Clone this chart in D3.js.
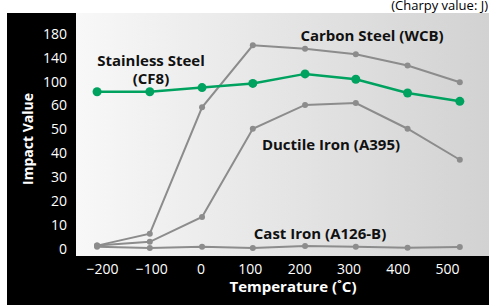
<!DOCTYPE html>
<html>
<head>
<meta charset="utf-8">
<script src="https://cdn.jsdelivr.net/npm/d3@7"></script>
<style>
  body { margin: 0; background: #fff; }
  svg { display: block; font-family: "Open Sans", "Noto Sans", sans-serif; }
</style>
</head>
<body>
<script>
// temperatures where the points sit
const temps = [-210, -103, 3, 106, 212, 315, 420, 526]
const xTicks = [-200, -100, 0, 100, 200, 300, 400, 500]
const yTicks = [0, 10, 20, 30, 40, 50, 60, 100, 140, 180]

const stainless = [82, 82, 89, 96, 112, 103, 80, 66]
const carbon = [1, 6, 59, 160, 154, 145, 126, 98]
const ductile = [1, 2.6, 13, 50, 60, 63, 50, 37]
const castIron = [0.5, 0, 0.5, 0, 0.8, 0.5, 0.1, 0.4]

const W = 489, H = 305
const panel = {left: 7, top: 13}
const plot = {left: 76, top: 13, right: 489, bottom: 256}

const svg = d3.select("body").append("svg").attr("width", W).attr("height", H)

const defs = svg.append("defs")
const grad = defs.append("linearGradient").attr("id", "bg").attr("x1", "0").attr("x2", "1").attr("y1", "0").attr("y2", "0")
grad.append("stop").attr("offset", "0%").attr("stop-color", "#f8f8f8")
grad.append("stop").attr("offset", "100%").attr("stop-color", "#d2d2d2")

svg.append("rect")
   .attr("x", panel.left).attr("y", panel.top)
   .attr("width", W - panel.left).attr("height", H - panel.top)
   .attr("fill", "#000")
svg.append("rect")
   .attr("x", plot.left).attr("y", plot.top)
   .attr("width", plot.right - plot.left).attr("height", plot.bottom - plot.top)
   .attr("fill", "url(#bg)")

let x = d3.scaleLinear().domain([-200, 500]).range([102, 447])
// uneven y axis: every tick gets the same spacing
let y = d3.scaleLinear()
          .domain(yTicks)
          .range(yTicks.map((d, i) => 248 - i * 23.85))

let xAxis = d3.axisBottom(x).tickValues(xTicks).tickSize(0).tickPadding(0)
              .tickFormat(d => d < 0 ? "\u2212" + Math.abs(d) : d)
let yAxis = d3.axisLeft(y).tickValues(yTicks).tickSize(0).tickPadding(0)

const gx = svg.append("g").attr("transform", "translate(0,274)").call(xAxis)
gx.select(".domain").remove()
gx.selectAll("text").attr("fill", "#fff").attr("font-size", 14).attr("dy", 0)
  .attr("font-family", "Open Sans, sans-serif")

const gy = svg.append("g").attr("transform", "translate(67,0)").call(yAxis)
gy.select(".domain").remove()
gy.selectAll("text").attr("fill", "#fff").attr("font-size", 14).attr("dy", "0.36em")
  .attr("font-family", "Open Sans, sans-serif")

svg.append("text")
   .attr("transform", "translate(33,139) rotate(-90)")
   .attr("text-anchor", "middle")
   .attr("fill", "#fff").attr("font-size", 14).attr("font-weight", "bold")
   .text("Impact Value")

svg.append("text")
   .attr("x", 293).attr("y", 292)
   .attr("text-anchor", "middle")
   .attr("fill", "#fff").attr("font-size", 15).attr("font-weight", "bold")
   .text("Temperature (\u02DAC)")

svg.append("text")
   .attr("x", 488).attr("y", 10)
   .attr("text-anchor", "end")
   .attr("fill", "#000").attr("font-size", 13)
   .text("(Charpy value: J)")

const line = d3.line().x((d, i) => x(temps[i])).y(d => y(d))

function drawSeries(vals, color, width, r) {
  const g = svg.append("g")
  g.append("path")
   .attr("d", line(vals))
   .attr("fill", "none")
   .attr("stroke", color)
   .attr("stroke-width", width)
  g.selectAll("circle")
   .data(vals)
   .enter().append("circle")
           .attr("cx", (d, i) => x(temps[i]))
           .attr("cy", d => y(d))
           .attr("r", r)
           .attr("fill", color)
}

drawSeries(castIron, "#8c8c8c", 2, 3)
drawSeries(ductile, "#8c8c8c", 2, 3)
drawSeries(carbon, "#8c8c8c", 2, 3)
drawSeries(stainless, "#00a260", 2.5, 4.5)

const labels = [
  {t: ["Carbon Steel (WCB)"], x: 372, y: 41},
  {t: ["Stainless Steel", "(CF8)"], x: 151, y: 66},
  {t: ["Ductile Iron (A395)"], x: 331, y: 150},
  {t: ["Cast Iron (A126-B)"], x: 320, y: 239}
]
const lbl = svg.selectAll(".lbl")
   .data(labels)
   .enter().append("text")
           .attr("class", "lbl")
           .attr("y", d => d.y)
           .attr("text-anchor", "middle")
           .attr("font-size", 15).attr("font-weight", "bold")
           .attr("fill", "#111")
lbl.selectAll("tspan")
   .data(d => d.t.map((s, i) => ({s: s, x: d.x, i: i})))
   .enter().append("tspan")
           .attr("x", d => d.x)
           .attr("dy", d => d.i ? 18 : 0)
           .text(d => d.s)
</script>
</body>
</html>
